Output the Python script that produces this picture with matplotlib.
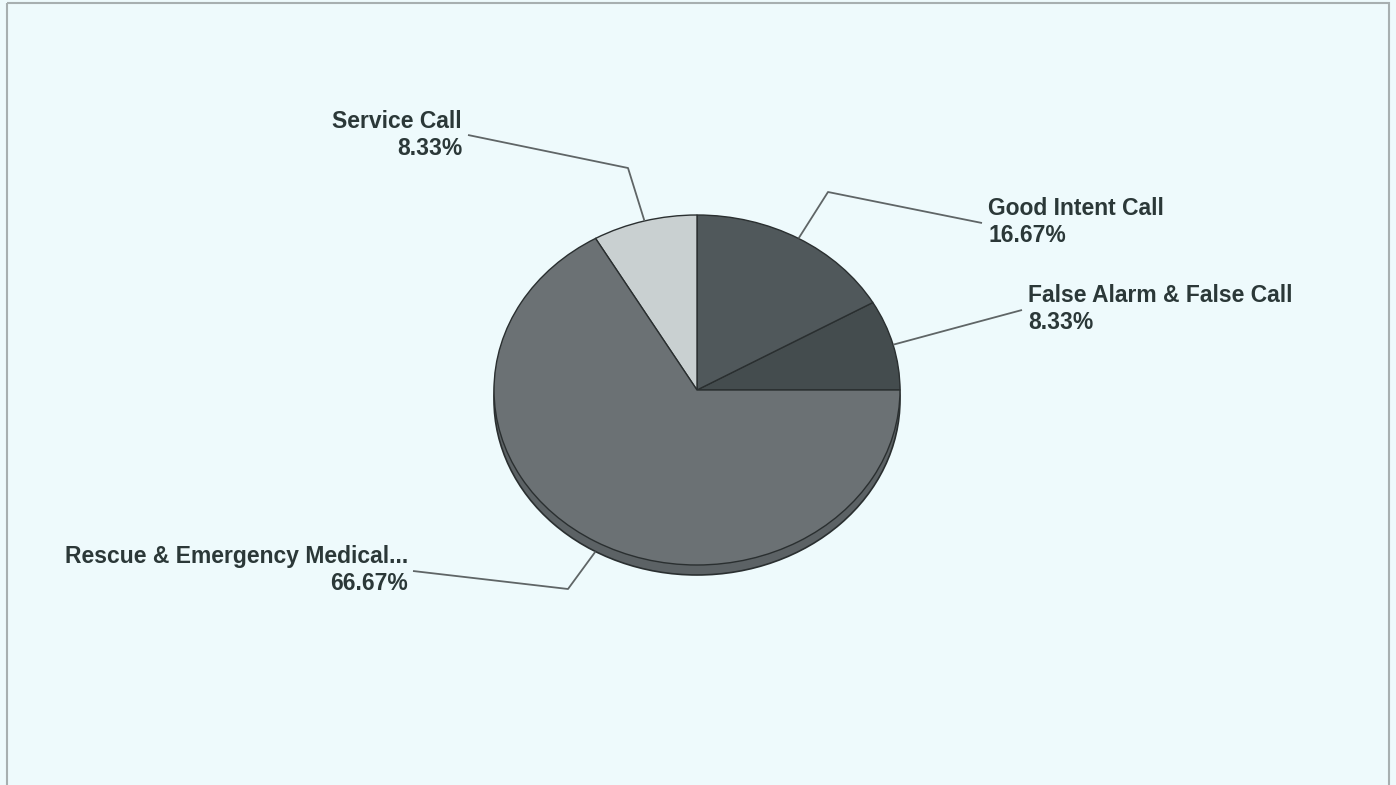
import numpy as np
import matplotlib
matplotlib.use('Agg')
import matplotlib.pyplot as plt
from matplotlib.patches import Ellipse, Rectangle

plt.rcParams['font.family'] = ['Liberation Sans', 'DejaVu Sans']

# ── data ──────────────────────────────────────────────
categories = ['False Alarm & False Call', 'Good Intent Call', 'Service Call',
              'Rescue & Emergency Medical...']
values = [8.33, 16.67, 8.33, 66.67]
colors = ['#444c4e', '#50585b', '#c9d0d1', '#6b7174']

# label layout (pixels): text x, first baseline, alignment, leader end, kink
label_pos = [
    (1028, 302, 'left', (1022, 310), (955, 328)),
    (988, 215, 'left', (982, 223), (828, 192)),
    (462, 128, 'right', (468, 135), (628, 168)),
    (408, 563, 'right', (413, 571), (568, 589)),
]

W, H = 1396, 785
BG = '#eefafc'
TXT = '#2b3838'

fig = plt.figure(figsize=(W / 100, H / 100), dpi=100, facecolor=BG)

# pie axes: ellipse centred at (697, 390), rx 203, ry 175
cx, cy, rx, ry = 697, 390, 203, 175
ax = fig.add_axes([(cx - rx) / W, (H - cy - ry) / H, 2 * rx / W, 2 * ry / H])

wedges, _ = ax.pie(values, colors=colors, startangle=0, counterclock=True,
                   radius=1, wedgeprops=dict(edgecolor='#2a2f30', linewidth=1.0))
for w in wedges:
    w.set_zorder(2)
    w.set_clip_on(False)

# squash the circle into the ellipse of the reference
ax.set_aspect('auto')
ax.set_xlim(-1, 1)
ax.set_ylim(-1, 1)
ax.axis('off')

depth = 10 / ry
side = Ellipse((0, -depth), 2, 2, facecolor='#5c6265', edgecolor='#2a2f30',
               linewidth=1.2, clip_on=False, zorder=1)
ax.add_patch(side)

# overlay in pixel coordinates
ov = fig.add_axes([0, 0, 1, 1], facecolor='none')
ov.set_xlim(0, W)
ov.set_ylim(H, 0)
ov.axis('off')

ov.add_patch(Rectangle((7, 3), 1382, 790, fill=False, edgecolor='#a7afb0',
                       linewidth=1.5, clip_on=False))

to_px = ax.transData + ov.transData.inverted()
for w, name, val, (tx, ty, ha, end, kink) in zip(wedges, categories, values, label_pos):
    mid = np.deg2rad((w.theta1 + w.theta2) / 2)
    px, py = to_px.transform((np.cos(mid), np.sin(mid)))
    if np.sin(mid) < 0:
        py += 10
    ov.plot([end[0], kink[0], px], [end[1], kink[1], py], color='#5f6566',
            linewidth=1.3, solid_capstyle='butt')
    ov.text(tx, ty, name, ha=ha, va='baseline', fontsize=16.5,
            fontweight='bold', color=TXT)
    ov.text(tx, ty + 27, f'{val:.2f}%', ha=ha, va='baseline', fontsize=16.5,
            fontweight='bold', color=TXT)

fig.savefig('out.png', dpi=100, facecolor=BG)
